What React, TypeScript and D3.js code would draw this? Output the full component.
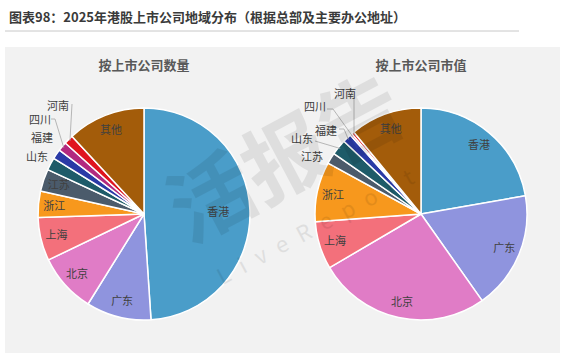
import React from "react";
import * as d3 from "d3";

// regions, clockwise from 12 o'clock
const regions = ["香港", "广东", "北京", "上海", "浙江", "江苏", "山东", "福建", "四川", "河南", "其他"];
const colors = ["#4a9dc9", "#8f94de", "#e07cc6", "#f3707b", "#f7981d", "#4b5b6b", "#1e5b69", "#2a3aa6", "#b2297f", "#e0141f", "#a35c0a"];

// share (%) by number of listed companies
const countShare = [48.9, 9.9, 9.0, 6.6, 4.0, 3.4, 1.9, 1.5, 1.4, 1.4, 11.9];
// share (%) by market value
const valueShare = [22.25, 17.97, 26.33, 7.28, 9.14, 1.67, 2.39, 1.33, 0.3, 0.39, 10.94];

const titleText = "图表98：2025年港股上市公司地域分布（根据总部及主要办公地址）";
const subTitles = ["按上市公司数量", "按上市公司市值"];

// label layout (not data): which labels sit outside and where
type OuterLabel = { dx: number; dy: number; leader?: [number, number][] };
const leftOuter: Record<string, OuterLabel> = {
  山东: { dx: -107, dy: -57 },
  福建: { dx: -102, dy: -76 },
  四川: { dx: -104, dy: -94, leader: [[-93, -95], [-89, -95]] },
  河南: { dx: -86, dy: -108, leader: [[-72, -110]] },
};
const rightOuter: Record<string, OuterLabel> = {
  江苏: { dx: -109, dy: -57 },
  山东: { dx: -119, dy: -75, leader: [[-106, -73]] },
  福建: { dx: -95, dy: -83, leader: [[-82, -85], [-77, -85]] },
  四川: { dx: -106, dy: -107, leader: [[-94, -105], [-88, -105]] },
  河南: { dx: -76, dy: -120, leader: [[-67, -116]] },
};

const W = 565;
const H = 353;
const R = 106;
const FONT = "'Noto Sans CJK SC', 'Noto Sans', sans-serif";

function Pie({ cx, cy, values, outer, title, innerR }: {
  cx: number; cy: number; values: number[]; outer: Record<string, OuterLabel>;
  title: string; innerR: Record<string, number>;
}) {
  const data = regions.map((name, i) => ({ name, value: values[i], color: colors[i] }));
  const pie = d3.pie<any>().sort(null).value(d => d.value);
  const arcs = pie(data);
  const arc = d3.arc<any>().innerRadius(0).outerRadius(R);

  return (
    <g transform={`translate(${cx},${cy})`}>
      <text x={0} y={-144} textAnchor="middle" fontFamily={FONT} fontWeight="bold"
        fontSize={13} fill="#595959">{title}</text>
      {arcs.map(a => (
        <path key={a.data.name} d={arc(a) || ""} fill={a.data.color} stroke="#ffffff" strokeWidth={1.5} strokeLinejoin="round" />
      ))}
      {arcs.map(a => {
        const mid = (a.startAngle + a.endAngle) / 2;
        const o = outer[a.data.name];
        if (o) {
          const ex = Math.sin(mid) * (R - 2);
          const ey = -Math.cos(mid) * (R - 2);
          const pts = o.leader ? [...o.leader, [ex, ey]] : null;
          return (
            <g key={a.data.name}>
              {pts && (
                <polyline points={pts.map(p => p.join(",")).join(" ")} fill="none" stroke="#a6a6a6" strokeWidth={0.8} />
              )}
              <text x={o.dx} y={o.dy} dy="0.36em" textAnchor="middle" fontFamily={FONT}
                fontSize={11} fill="#404040">{a.data.name}</text>
            </g>
          );
        }
        const rr = R * (innerR[a.data.name] ?? 0.85);
        return (
          <text key={a.data.name} x={Math.sin(mid) * rr} y={-Math.cos(mid) * rr} dy="0.36em"
            textAnchor="middle" fontFamily={FONT} fontSize={11} fill="#404040">{a.data.name}</text>
        );
      })}
    </g>
  );
}

export default function App() {
  return (
    <svg width={W} height={H} style={{ position: "absolute", left: 0, top: 0, background: "#ffffff" }}>
      <text x={9} y={22} fontFamily={FONT} fontWeight="bold" fontSize={13} fill="#3a3a3a">{titleText}</text>
      <line x1={5} x2={519} y1={31} y2={31} stroke="#c8c8c8" strokeWidth={1} />
      <rect x={5} y={47} width={555} height={H - 47} fill="#f2f2f2" />
      <Pie cx={144} cy={214} values={countShare} outer={leftOuter} title={subTitles[0]} innerR={{ 香港: 0.7 }} />
      <Pie cx={421} cy={214} values={valueShare} outer={rightOuter} title={subTitles[1]} innerR={{}} />
      {/* faint watermark */}
      <g transform="translate(300,185) rotate(-28)" opacity={0.08} pointerEvents="none">
        <text x={0} y={0} textAnchor="middle" fontFamily={FONT} fontWeight="bold" fontSize={84} fill="#000">活报告</text>
        <text x={0} y={52} textAnchor="middle" fontFamily={FONT} fontSize={22} letterSpacing={12} fill="#000">LiveReport</text>
      </g>
    </svg>
  );
}
